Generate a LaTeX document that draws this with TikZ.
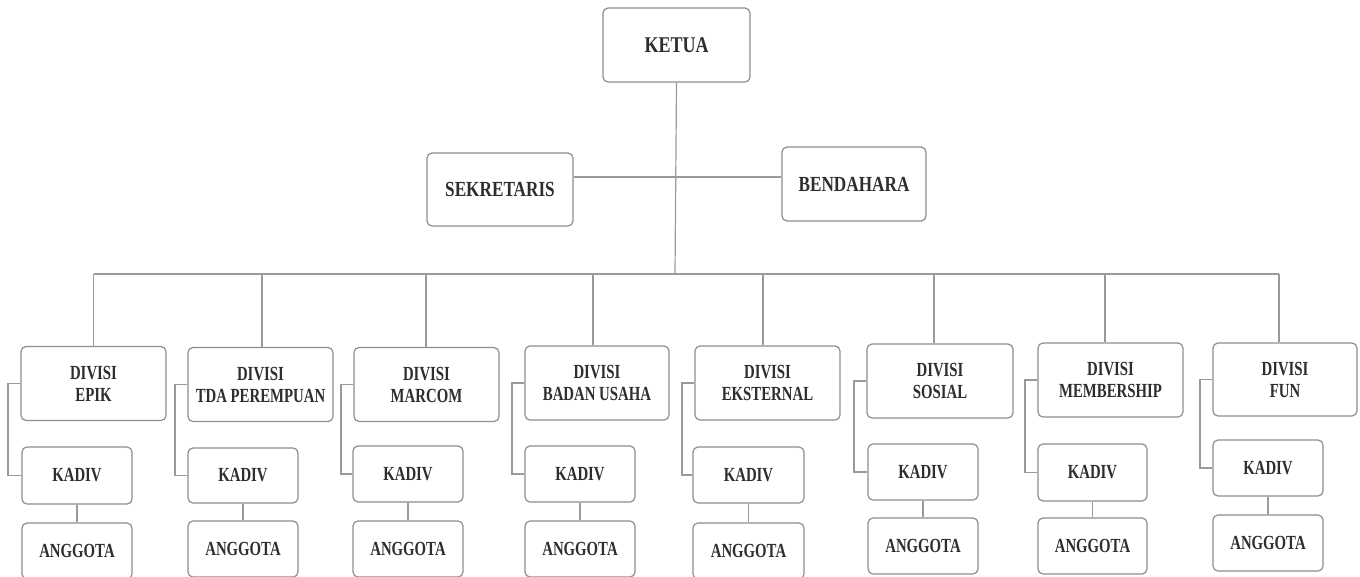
\documentclass[tikz,border=0pt]{standalone}
\usepackage{fontspec}
\newfontfamily\topfont{Liberation Serif}[FakeStretch=0.8]
\newfontfamily\divfont{Liberation Serif}[FakeStretch=0.74]
\definecolor{txt}{HTML}{2E2E2E}
\definecolor{bord}{HTML}{8E8E8E}
\definecolor{conn}{HTML}{9A9A9A}
\begin{document}
\begin{tikzpicture}[x=1pt,y=-1pt,
  box/.style={draw=bord, line width=1.2pt, rounded corners=5pt, fill=white,
    inner sep=0pt, align=center, text=txt},
  topbox/.style={box, minimum width=146pt, minimum height=73pt, font=\topfont\bfseries\fontsize{21.5}{24}\selectfont},
  divbox/.style={box, minimum width=145pt, minimum height=74pt, font=\divfont\bfseries\fontsize{20}{22}\selectfont},
  kbox/.style={box, minimum width=110pt, minimum height=56pt, font=\divfont\bfseries\fontsize{20}{22}\selectfont},
  link/.style={draw=conn, line width=1.2pt}]
\useasboundingbox (0,0) rectangle (1360,576);

% top level
\node[topbox, minimum width=147pt, minimum height=74pt, font=\topfont\bfseries\fontsize{22.5}{24}\selectfont] (ketua) at (676.5,45) {KETUA};
\node[topbox] (sek) at (500,189.5) {SEKRETARIS};
\node[topbox, minimum width=144pt, minimum height=74pt] (ben) at (854,184) {BENDAHARA};

\coordinate (hl) at (676,177);
\coordinate (bus) at (675,274);
\coordinate (busL) at (93.5,274);
\coordinate (busR) at (1279,274);

\draw[link] (sek.east |- hl) -- (ben.west |- hl);
\draw[link] (ketua.south) -- (bus);
\draw[link] (busL) -- (busR);

% divisions
\node[divbox] (d1) at (93.5,383.5) {DIVISI\\EPIK};
\node[divbox] (d2) at (260.5,384.5) {DIVISI\\TDA PEREMPUAN};
\node[divbox] (d3) at (426.5,384.5) {DIVISI\\MARCOM};
\node[divbox, minimum width=144pt] (d4) at (597,383) {DIVISI\\BADAN USAHA};
\node[divbox] (d5) at (767.5,383) {DIVISI\\EKSTERNAL};
\node[divbox, minimum width=146pt] (d6) at (940,381) {DIVISI\\SOSIAL};
\node[divbox] (d7) at (1110.5,380) {DIVISI\\MEMBERSHIP};
\node[divbox, minimum width=144pt, minimum height=73pt] (d8) at (1285,379.5) {DIVISI\\FUN};

% drop points on the bus
\coordinate (p1) at (93.5,274);
\coordinate (p2) at (262,274);
\coordinate (p3) at (426,274);
\coordinate (p4) at (593,274);
\coordinate (p5) at (763,274);
\coordinate (p6) at (934,274);
\coordinate (p7) at (1105,274);
\coordinate (p8) at (1279,274);

% kadiv
\node[kbox, minimum height=57pt] (k1) at (77,475.5) {KADIV};
\node[kbox, minimum height=55pt] (k2) at (243,475.5) {KADIV};
\node[kbox] (k3) at (408,474) {KADIV};
\node[kbox] (k4) at (580,474) {KADIV};
\node[kbox, minimum width=111pt] (k5) at (748.5,475) {KADIV};
\node[kbox] (k6) at (923,472) {KADIV};
\node[kbox, minimum width=109pt, minimum height=57pt] (k7) at (1092.5,472.5) {KADIV};
\node[kbox] (k8) at (1268,468) {KADIV};

% anggota
\node[kbox] (a1) at (77,551) {ANGGOTA};
\node[kbox] (a2) at (243,549) {ANGGOTA};
\node[kbox] (a3) at (408,549) {ANGGOTA};
\node[kbox] (a4) at (580,549) {ANGGOTA};
\node[kbox, minimum width=111pt] (a5) at (748.5,551) {ANGGOTA};
\node[kbox] (a6) at (923,546) {ANGGOTA};
\node[kbox, minimum width=109pt] (a7) at (1092.5,546) {ANGGOTA};
\node[kbox] (a8) at (1268,543) {ANGGOTA};

\foreach \i in {1,...,8}{
  \draw[link] (p\i) -- (p\i |- d\i.north);
  \draw[link] (d\i.west) -- ++(-12.5,0) |- (k\i.west);
  \draw[link] (k\i.south) -- (a\i.north);
}
\end{tikzpicture}
\end{document}
